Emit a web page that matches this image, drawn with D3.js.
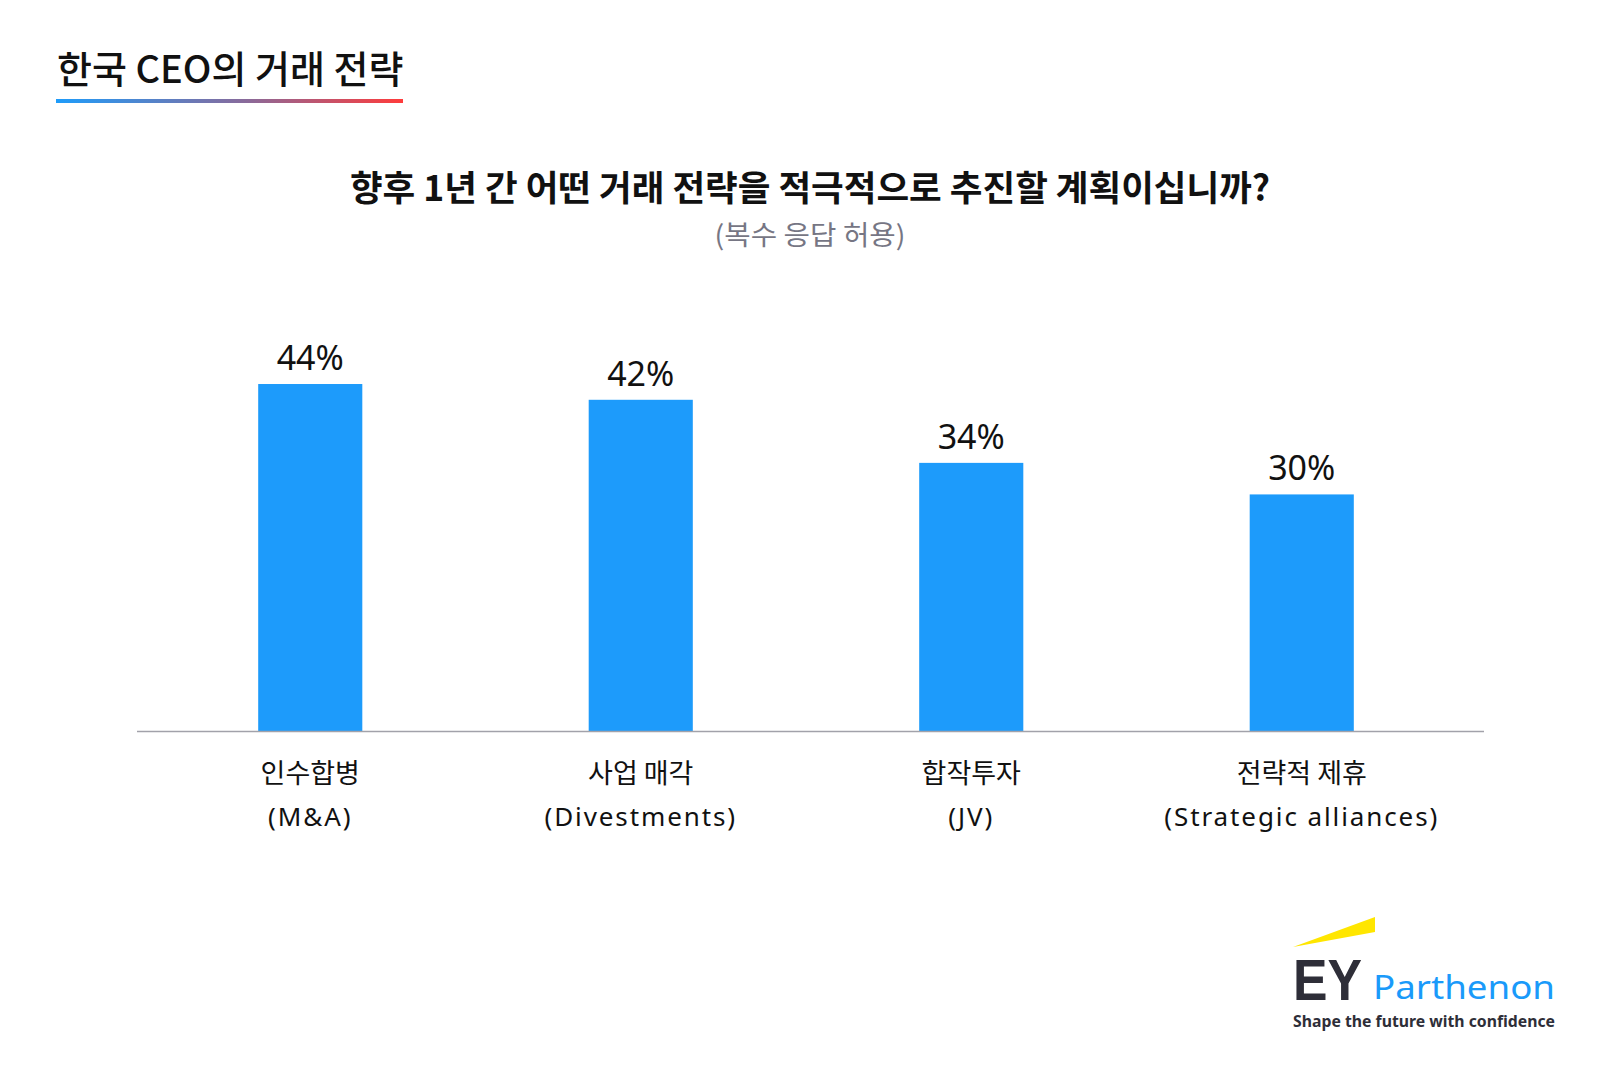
<!DOCTYPE html>
<html>
<head>
<meta charset="utf-8">
<script src="https://cdn.jsdelivr.net/npm/d3@7"></script>
<style>
  html, body { margin: 0; padding: 0; background: #fff; }
  svg { display: block; }
</style>
</head>
<body>
<svg id="chart" width="1619" height="1080"></svg>
<script>
const categoriesKo = ["인수합병", "사업 매각", "합작투자", "전략적 제휴"];
const categoriesEn = ["(M&A)", "(Divestments)", "(JV)", "(Strategic alliances)"];
const values = [44, 42, 34, 30];
const valueLabels = ["44%", "42%", "34%", "30%"];

const titleText = "한국 CEO의 거래 전략";
const questionText = "향후 1년 간 어떤 거래 전략을 적극적으로 추진할 계획이십니까?";
const noteText = "(복수 응답 허용)";

const svg = d3.select("#chart");
const KR = "'Noto Sans CJK KR', 'Noto Sans', sans-serif";
const LAT = "'Noto Sans', 'Noto Sans CJK KR', sans-serif";

// Title
svg.append("text")
  .attr("x", 57).attr("y", 83)
  .attr("font-family", KR).attr("font-size", 38).attr("font-weight", 500)
  .attr("fill", "#111")
  .text(titleText);

const defs = svg.append("defs");
const grad = defs.append("linearGradient").attr("id", "ul").attr("x1", "0%").attr("x2", "100%");
grad.append("stop").attr("offset", "0%").attr("stop-color", "#1e9cfa");
grad.append("stop").attr("offset", "55%").attr("stop-color", "#8a6a9a");
grad.append("stop").attr("offset", "100%").attr("stop-color", "#ff3b3b");
svg.append("rect").attr("x", 56).attr("y", 99).attr("width", 347).attr("height", 4).attr("fill", "url(#ul)");

// Question & note
svg.append("text")
  .attr("x", 810).attr("y", 201).attr("text-anchor", "middle")
  .attr("font-family", KR).attr("font-size", 35.5).attr("font-weight", 700)
  .attr("fill", "#111")
  .text(questionText);
svg.append("text")
  .attr("x", 810).attr("y", 245).attr("text-anchor", "middle")
  .attr("font-family", KR).attr("font-size", 27).attr("font-weight", 400)
  .attr("fill", "#767684")
  .attr("textLength", 191).attr("lengthAdjust", "spacingAndGlyphs")
  .text(noteText);

// Scales
const x = d3.scaleBand().domain(categoriesKo).range([145, 1467]).paddingInner(0.685).paddingOuter(0.3425);
const y = d3.scaleLinear().domain([0, 50]).range([731, 336.7]);

// Bars
svg.append("g").selectAll("rect").data(values).join("rect")
  .attr("x", (d, i) => x(categoriesKo[i]))
  .attr("y", d => y(d))
  .attr("width", x.bandwidth())
  .attr("height", d => y(0) - y(d))
  .attr("fill", "#1d9bfb");

// Value labels
svg.append("g").selectAll("text").data(values).join("text")
  .attr("x", (d, i) => x(categoriesKo[i]) + x.bandwidth() / 2)
  .attr("y", d => y(d) - 14)
  .attr("text-anchor", "middle")
  .attr("font-family", LAT).attr("font-size", 34)
  .attr("fill", "#111")
  .text((d, i) => valueLabels[i]);

// Baseline
svg.append("line").attr("x1", 137).attr("x2", 1484).attr("y1", y(0) + 0.5).attr("y2", y(0) + 0.5)
  .attr("stroke", "#a2a2aa").attr("stroke-width", 1.5);

// Axis labels
const axis = d3.axisBottom(x).tickSize(0).tickPadding(0);
const gAxis = svg.append("g").attr("transform", `translate(0,${y(0)})`).call(axis);
gAxis.select(".domain").remove();
gAxis.selectAll(".tick text").each(function(d, i) {
  const t = d3.select(this);
  t.text(null).attr("y", 0).attr("dy", null).attr("fill", "#111")
    .attr("font-family", LAT).attr("font-size", 26);
  t.append("tspan").attr("x", 0).attr("y", 52).attr("font-family", KR).attr("font-size", 27).text(categoriesKo[i]);
  t.append("tspan").attr("x", 0).attr("y", 95).attr("letter-spacing", 1.9).text(categoriesEn[i]);
});

// Logo
const logo = svg.append("g");
logo.append("polygon").attr("points", "1293,947 1375,917 1375,932").attr("fill", "#ffe600");
logo.append("text").attr("x", 1293).attr("y", 1000)
  .attr("font-family", "'Liberation Sans', Arial, sans-serif").attr("font-weight", 700).attr("font-size", 57)
  .attr("fill", "#2e2e38").attr("textLength", 69).attr("lengthAdjust", "spacingAndGlyphs").text("EY");
logo.append("text").attr("x", 1373).attr("y", 999)
  .attr("font-family", LAT).attr("font-size", 33)
  .attr("fill", "#1a9afa").attr("textLength", 182).attr("lengthAdjust", "spacingAndGlyphs").text("Parthenon");
logo.append("text").attr("x", 1293).attr("y", 1027)
  .attr("font-family", LAT).attr("font-weight", 700).attr("font-size", 16)
  .attr("fill", "#2e2e38").attr("textLength", 262).attr("lengthAdjust", "spacingAndGlyphs").text("Shape the future with confidence");
</script>
</body>
</html>
